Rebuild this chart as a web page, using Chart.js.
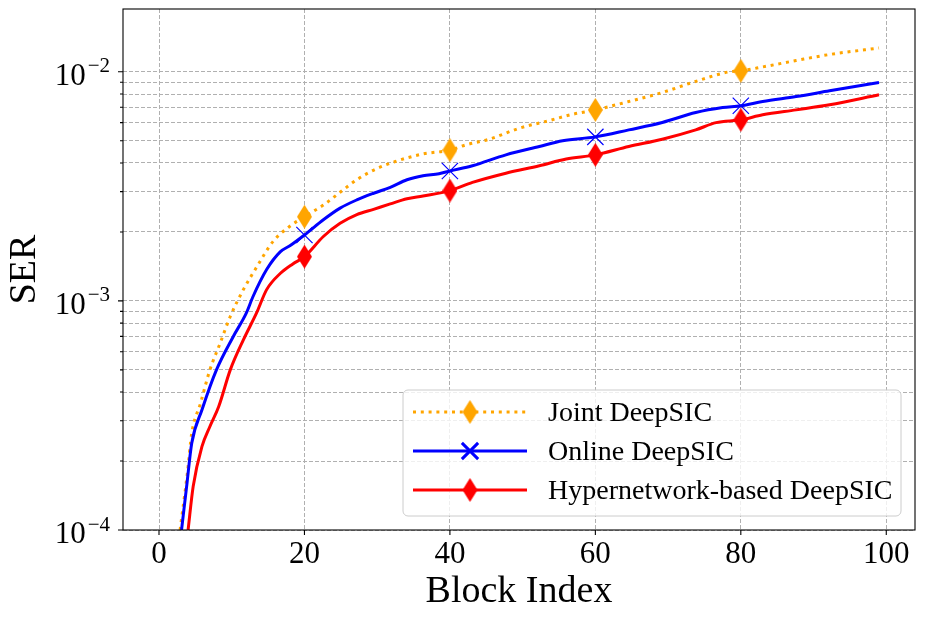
<!DOCTYPE html>
<html>
<head>
<meta charset="utf-8">
<script src="https://cdn.jsdelivr.net/npm/chart.js@4.4.1/dist/chart.umd.min.js"></script>
<style>
  html, body { margin: 0; padding: 0; background: #fff; }
  #wrap { width: 925px; height: 619px; }
</style>
</head>
<body>
<div id="wrap"><canvas id="serChart"></canvas></div>
<script>
// curves (block index, SER)
const jointX = [2.9, 3.9, 4.5, 5.7, 7.0, 8.4, 9.8, 11.6, 13.4, 15.7, 18.1, 20, 22.6, 24.9, 27.2, 29.8, 32.5, 36.3, 40, 42.2, 45.4, 49.6, 53.7, 56.9, 60, 64.6, 69.2, 73.8, 78.4, 80, 83.0, 87.6, 92.2, 99];
const jointSer = [1.0e-4, 1.77e-4, 2.64e-4, 3.57e-4, 5.0e-4, 6.53e-4, 8.55e-4, 1.12e-3, 1.40e-3, 1.82e-3, 2.13e-3, 2.33e-3, 2.62e-3, 2.98e-3, 3.38e-3, 3.76e-3, 4.06e-3, 4.38e-3, 4.55e-3, 4.8e-3, 5.08e-3, 5.68e-3, 6.13e-3, 6.53e-3, 6.82e-3, 7.42e-3, 8.12e-3, 9.08e-3, 1.0e-2, 1.01e-2, 1.05e-2, 1.12e-2, 1.19e-2, 1.27e-2];

const onlineX = [3.1, 3.8, 4.5, 5.9, 7.9, 10.2, 12.0, 12.9, 14.8, 16.7, 18.1, 20, 22.6, 24.9, 27.2, 29.5, 31.8, 34.1, 36.3, 38.5, 40, 43.1, 47.7, 52.3, 55.5, 60, 64.6, 69.2, 73.8, 77.5, 80, 83, 87.6, 92.2, 99];
const onlineSer = [1.0e-4, 1.55e-4, 2.39e-4, 3.34e-4, 5.0e-4, 6.98e-4, 8.84e-4, 1.04e-3, 1.37e-3, 1.64e-3, 1.75e-3, 1.94e-3, 2.26e-3, 2.54e-3, 2.76e-3, 2.95e-3, 3.13e-3, 3.38e-3, 3.52e-3, 3.59e-3, 3.69e-3, 3.89e-3, 4.34e-3, 4.72e-3, 5.0e-3, 5.2e-3, 5.58e-3, 6.01e-3, 6.64e-3, 6.98e-3, 7.11e-3, 7.42e-3, 7.8e-3, 8.26e-3, 8.98e-3];

const hyperX = [4.0, 4.7, 5.9, 7.0, 8.2, 9.8, 11.6, 13.4, 14.8, 16.7, 18.4, 20, 22.6, 24.9, 27.2, 29.5, 31.8, 34.1, 36.3, 40, 43.1, 47.7, 52.3, 56, 60, 64.6, 69.2, 73.8, 76.6, 80, 83, 87.6, 92.2, 99];
const hyperSer = [1.0e-4, 1.55e-4, 2.31e-4, 2.83e-4, 3.45e-4, 5.0e-4, 6.76e-4, 8.84e-4, 1.12e-3, 1.32e-3, 1.45e-3, 1.56e-3, 1.91e-3, 2.18e-3, 2.38e-3, 2.51e-3, 2.65e-3, 2.79e-3, 2.87e-3, 3.03e-3, 3.29e-3, 3.61e-3, 3.89e-3, 4.16e-3, 4.34e-3, 4.72e-3, 5.08e-3, 5.58e-3, 6.0e-3, 6.17e-3, 6.49e-3, 6.82e-3, 7.18e-3, 7.94e-3];

const seriesLabels = ['Joint DeepSIC', 'Online DeepSIC', 'Hypernetwork-based DeepSIC'];
const xTicks = [0, 20, 40, 60, 80, 100];
const yTicks = [1e-4, 2e-4, 3e-4, 4e-4, 5e-4, 6e-4, 7e-4, 8e-4, 9e-4,
                1e-3, 2e-3, 3e-3, 4e-3, 5e-3, 6e-3, 7e-3, 8e-3, 9e-3, 1e-2];
const yMajor = [1e-4, 1e-3, 1e-2];
const yMajorExp = ['\u22124', '\u22123', '\u22122'];
const markEvery = 20;

const SERIF = '"Liberation Serif", "DejaVu Serif", serif';
Chart.defaults.font.family = SERIF;
Chart.defaults.color = '#000';

function thinDiamond(color, w, h) {
    const c = document.createElement('canvas');
    c.width = w;
    c.height = h;
    const g = c.getContext('2d');
    g.fillStyle = color;
    g.beginPath();
    g.moveTo(w / 2, 0);
    g.lineTo(w, h / 2);
    g.lineTo(w / 2, h);
    g.lineTo(0, h / 2);
    g.closePath();
    g.fill();
    return c;
}

const orangeDiamond = thinDiamond('#ffa500', 15, 24);
const redDiamond = thinDiamond('#ff0000', 15, 24);

function toPoints(xs, ys) {
    return xs.map((x, i) => ({ x: x, y: ys[i] }));
}

function markerRadius(r) {
    return ctx => (ctx.raw && ctx.raw.x % markEvery === 0 ? r : 0);
}

// frame, tick marks, tick labels and the legend box inside the axes
const axesDecor = {
    id: 'axesDecor',
    afterDatasetsDraw(chart) {
        const { ctx, chartArea: a, scales: { x, y } } = chart;
        ctx.save();

        ctx.strokeStyle = '#000';
        ctx.lineWidth = 1.1;
        ctx.strokeRect(a.left, a.top, a.right - a.left, a.bottom - a.top);

        ctx.beginPath();
        xTicks.forEach(v => {
            const px = x.getPixelForValue(v);
            ctx.moveTo(px, a.bottom);
            ctx.lineTo(px, a.bottom + 5);
        });
        yTicks.forEach(v => {
            const py = y.getPixelForValue(v);
            const len = yMajor.includes(v) ? 5 : 3;
            ctx.moveTo(a.left - len, py);
            ctx.lineTo(a.left, py);
        });
        ctx.stroke();

        ctx.fillStyle = '#000';
        ctx.textBaseline = 'alphabetic';
        ctx.textAlign = 'center';
        ctx.font = '31px ' + SERIF;
        xTicks.forEach(v => ctx.fillText(String(v), x.getPixelForValue(v), a.bottom + 33));

        ctx.textAlign = 'right';
        yMajor.forEach((v, i) => {
            const py = y.getPixelForValue(v);
            ctx.font = '21px ' + SERIF;
            const supW = ctx.measureText(yMajorExp[i]).width;
            ctx.fillText(yMajorExp[i], a.left - 13, py + 0.5);
            ctx.font = '31px ' + SERIF;
            ctx.fillText('10', a.left - 13 - supW - 2, py + 12.7);
        });

        // legend
        const boxW = 498, boxH = 126;
        const bx = a.right - 14 - boxW;
        const by = a.bottom - 14 - boxH;
        ctx.beginPath();
        ctx.roundRect(bx, by, boxW, boxH, 5);
        ctx.fillStyle = 'rgba(255,255,255,0.8)';
        ctx.fill();
        ctx.strokeStyle = '#cccccc';
        ctx.lineWidth = 1;
        ctx.stroke();

        chart.data.datasets.forEach((ds, i) => {
            const ry = by + 22 + i * 39;
            ctx.save();
            ctx.strokeStyle = ds.borderColor;
            ctx.lineWidth = ds.borderWidth;
            ctx.lineCap = ds.borderCapStyle || 'butt';
            ctx.setLineDash(ds.borderDash || []);
            ctx.beginPath();
            ctx.moveTo(bx + 10, ry);
            ctx.lineTo(bx + 124, ry);
            ctx.stroke();
            ctx.setLineDash([]);
            ctx.strokeStyle = ds.borderColor;
            ctx.fillStyle = ds.borderColor;
            Chart.helpers.drawPoint(ctx, {
                pointStyle: ds.pointStyle,
                radius: ds.legendRadius,
                borderWidth: ds.pointBorderWidth || 1,
                rotation: 0
            }, bx + 67, ry);
            ctx.restore();

            ctx.fillStyle = '#000';
            ctx.textAlign = 'left';
            ctx.font = '28px ' + SERIF;
            ctx.fillText(ds.label, bx + 145, ry + 9);
        });

        ctx.restore();
    }
};

const gridStyle = { color: '#b0b0b0', lineWidth: 1, drawTicks: false };
const borderStyle = { display: false, dash: [4, 2] };

new Chart(document.getElementById('serChart'), {
    type: 'line',
    data: {
        datasets: [
            {
                label: seriesLabels[0],
                data: toPoints(jointX, jointSer),
                borderColor: '#ffa500',
                borderWidth: 3,
                borderDash: [3, 4.8],
                borderCapStyle: 'butt',
                pointStyle: orangeDiamond,
                pointRadius: markerRadius(6),
                legendRadius: 6,
                order: 3
            },
            {
                label: seriesLabels[1],
                data: toPoints(onlineX, onlineSer),
                borderColor: '#0000ff',
                borderWidth: 3,
                pointStyle: 'crossRot',
                pointBorderWidth: 1.2,
                pointRadius: markerRadius(11.5),
                legendRadius: 11.5,
                order: 2
            },
            {
                label: seriesLabels[2],
                data: toPoints(hyperX, hyperSer),
                borderColor: '#ff0000',
                borderWidth: 3,
                pointStyle: redDiamond,
                pointRadius: markerRadius(6),
                legendRadius: 6,
                order: 1
            }
        ]
    },
    options: {
        responsive: true,
        maintainAspectRatio: false,
        animation: false,
        events: [],
        elements: { line: { cubicInterpolationMode: 'monotone', fill: false }, point: { hoverRadius: 0 } },
        datasets: { line: { clip: 0 } },
        layout: { padding: { top: 9, right: 10, left: 0, bottom: 0 } },
        scales: {
            x: {
                type: 'linear',
                min: -4.95,
                max: 103.95,
                afterBuildTicks: s => { s.ticks = xTicks.map(v => ({ value: v })); },
                afterFit: s => { s.height = 89; },
                ticks: { display: false },
                grid: gridStyle,
                border: borderStyle,
                title: { display: true, text: 'Block Index', font: { size: 38 }, padding: { top: 0, bottom: 4 } }
            },
            y: {
                type: 'logarithmic',
                min: 1e-4,
                max: 0.0188,
                afterBuildTicks: s => { s.ticks = yTicks.map(v => ({ value: v, major: yMajor.includes(v) })); },
                afterFit: s => { s.width = 123; },
                ticks: { display: false },
                grid: gridStyle,
                border: borderStyle,
                title: { display: true, text: 'SER', font: { size: 38 }, padding: { top: 2, bottom: 0 } }
            }
        },
        plugins: {
            legend: { display: false },
            tooltip: { enabled: false }
        }
    },
    plugins: [axesDecor]
});
</script>
</body>
</html>
